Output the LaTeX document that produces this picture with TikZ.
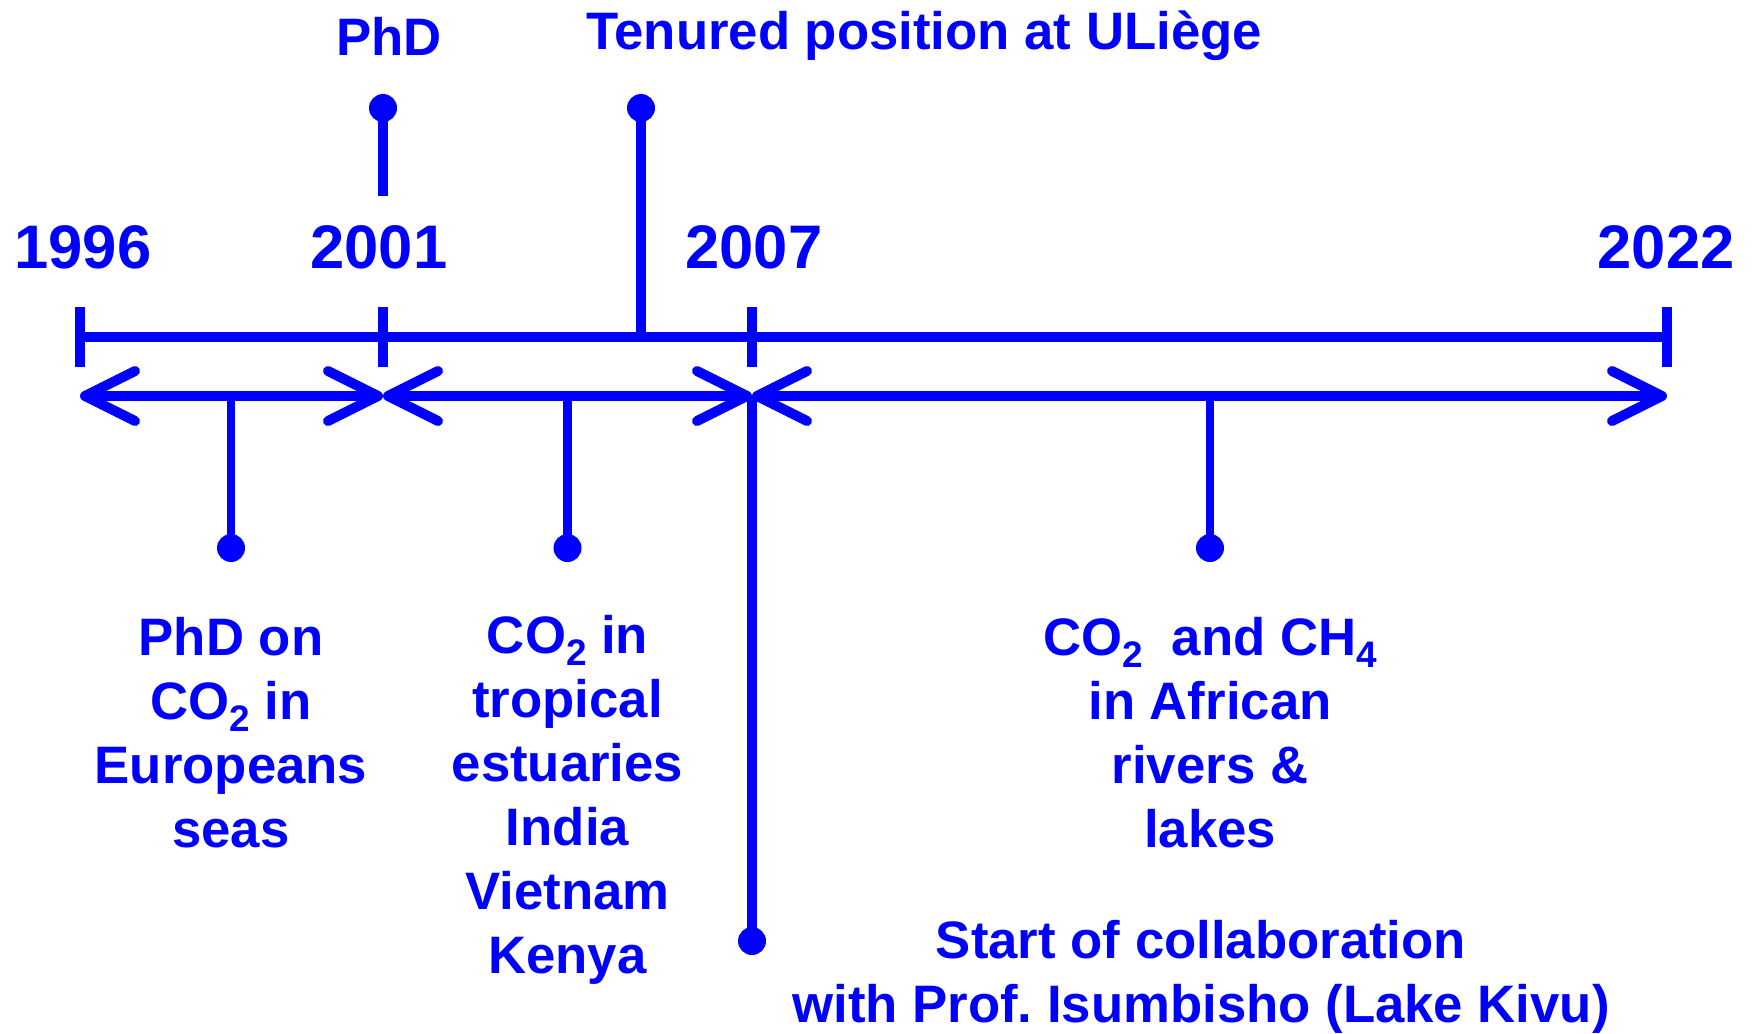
\documentclass[tikz,border=0pt]{standalone}
\usepackage{fontspec}
\setmainfont{Liberation Sans}
\usepackage{xcolor}
\usepackage{tikz}
\usetikzlibrary{arrows.meta,positioning}

\newcommand{\chemsub}[1]{\raisebox{-3.6pt}{\fontsize{10.5}{10.5}\selectfont #1}}

\begin{document}
\frenchspacing
\begin{tikzpicture}[
    axis/.style={draw=blue, line width=2.85pt},
    tick/.style={draw=blue, line width=2.85pt},
    span/.style={draw=blue, line width=2.85pt, {Straight Barb[length=5mm, width=5mm, round]}-{Straight Barb[length=5mm, width=5mm, round]}},
    stem/.style={draw=blue, line width=2.85pt},
    thinstem/.style={draw=blue, line width=2.3pt},
    dot/.style={circle, fill=blue, inner sep=0pt, minimum size=0.28cm},
    year/.style={text=blue, anchor=base, font=\fontsize{17.5}{20}\selectfont\bfseries},
    event/.style={text=blue, anchor=base, align=center, font=\fontsize{15}{18.2}\selectfont\bfseries}
]
    \useasboundingbox (0,0) rectangle (17.52,-10.33);

    % time axis
    \coordinate (y1996) at (0.80,-3.37);
    \coordinate (y2001) at (3.83,-3.37);
    \coordinate (ten) at (6.41,-3.37);
    \coordinate (y2007) at (7.52,-3.37);
    \coordinate (y2022) at (16.67,-3.37);
    \draw[axis] (y1996) -- (y2022);
    \foreach \y in {y1996,y2001,y2007,y2022}
        \draw[tick] ([yshift=3mm]\y) -- ([yshift=-3mm]\y);

    \node[year] (l1996) at (0.83,-2.68) {1996};
    \node[year] (l2001) at (3.79,-2.68) {2001};
    \node[year] (l2007) at (7.54,-2.68) {2007};
    \node[year] (l2022) at (16.66,-2.68) {2022};

    % periods
    \coordinate (a1996) at (0.80,-3.96);
    \coordinate (a2001) at (3.83,-3.96);
    \coordinate (a2007) at (7.52,-3.96);
    \coordinate (a2022) at (16.67,-3.96);
    \draw[span] (a1996) -- (a2001);
    \draw[span] (a2001) -- (a2007);
    \draw[span] (a2007) -- (a2022);

    % events above
    \coordinate (phdbase) at (3.83,-1.96);
    \node[dot] (phddot) at (3.83,-1.08) {};
    \draw[stem] (phdbase) -- (phddot.center);
    \node[event] (phd) at (3.89,-0.55) {PhD};

    \node[dot] (tendot) at (6.41,-1.08) {};
    \draw[stem] (ten) -- (tendot.center);
    \node[event] (tenured) at (9.24,-0.49) {Tenured position at ULiège};

    % events below (anchored on the last line)
    \coordinate (p1) at (2.31,-3.96);
    \coordinate (p2) at (5.675,-3.96);
    \coordinate (p3) at (12.10,-3.96);
    \node[dot] (d1) at (2.31,-5.48) {};
    \node[dot] (d2) at (5.675,-5.48) {};
    \node[dot] (d3) at (12.10,-5.48) {};
    \node[dot] (d4) at (7.52,-9.41) {};
    \draw[thinstem] (p1) -- (d1.center);
    \draw[thinstem] (p2) -- (d2.center);
    \draw[thinstem] (p3) -- (d3.center);
    \draw[stem] (a2007) -- (d4.center);

    \node[event] (europe) at (2.31,-8.47) {PhD on\\CO\chemsub{2} in\\Europeans\\seas};
    \node[event] (tropic) at (5.675,-9.73) {CO\chemsub{2} in\\tropical\\estuaries\\India\\Vietnam\\Kenya};
    \node[event] (africa) at (12.10,-8.47) {CO\chemsub{2}\ \ and CH\chemsub{4}\\in African\\rivers \&\\lakes};
    \node[event] (kivu) at (12.01,-10.22) {Start of collaboration\\with Prof. Isumbisho (Lake Kivu)};
\end{tikzpicture}
\end{document}
